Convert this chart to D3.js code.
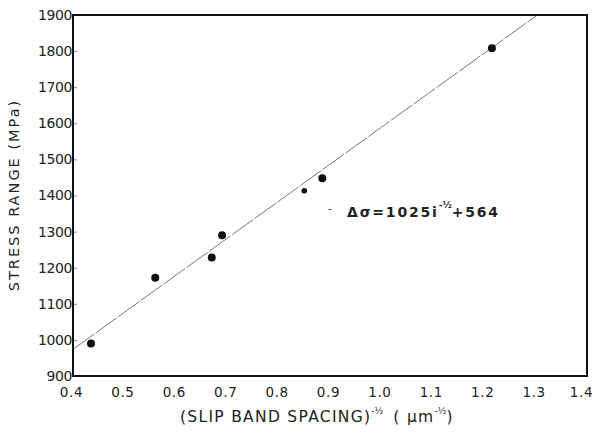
<!DOCTYPE html>
<html>
<head>
<meta charset="utf-8">
<script src="https://cdn.jsdelivr.net/npm/d3@7"></script>
<style>
  body { margin: 0; background: #fff; }
  text { font-family: "DejaVu Sans", sans-serif; fill: #222; }
</style>
</head>
<body>
<div id="chart"></div>
<script>
// Data
const spacing = [0.435, 0.56, 0.67, 0.69, 0.885, 1.215];
const stress = [990, 1172, 1228, 1290, 1448, 1808];
const hiddenPoint = [0.85, 1413];
const xTicks = [0.4, 0.5, 0.6, 0.7, 0.8, 0.9, 1.0, 1.1, 1.2, 1.3, 1.4];
const yTicks = [900, 1000, 1100, 1200, 1300, 1400, 1500, 1600, 1700, 1800, 1900];
const fitSlope = 1025;
const fitIntercept = 564;

const dimensions = {
  width: 592,
  height: 443,
  margin: { top: 15, right: 5, bottom: 67, left: 73 },
};
dimensions.containerWidth =
  dimensions.width - dimensions.margin.left - dimensions.margin.right;
dimensions.containerHeight =
  dimensions.height - dimensions.margin.top - dimensions.margin.bottom;

const svg = d3
  .select("#chart")
  .append("svg")
  .attr("width", dimensions.width)
  .attr("height", dimensions.height);

const container = svg
  .append("g")
  .attr("transform", `translate(${dimensions.margin.left}, ${dimensions.margin.top})`);

// Scales
const xScale = d3.scaleLinear().domain([0.4, 1.4]).range([0, dimensions.containerWidth]);
const yScale = d3.scaleLinear().domain([900, 1900]).range([dimensions.containerHeight, 0]);

// Fit line, clipped to the frame
container
  .append("clipPath")
  .attr("id", "clip")
  .append("rect")
  .attr("width", dimensions.containerWidth)
  .attr("height", dimensions.containerHeight);

const xTop = (1900 - fitIntercept) / fitSlope;
container
  .append("line")
  .attr("clip-path", "url(#clip)")
  .attr("x1", xScale(0.4))
  .attr("y1", yScale(fitSlope * 0.4 + fitIntercept))
  .attr("x2", xScale(xTop))
  .attr("y2", yScale(1900))
  .attr("stroke", "#777")
  .attr("stroke-width", 1)
  .attr("stroke-dasharray", "26,2");

// Points
container
  .selectAll("circle.pt")
  .data(d3.zip(spacing, stress))
  .join("circle")
  .attr("class", "pt")
  .attr("cx", (d) => xScale(d[0]))
  .attr("cy", (d) => yScale(d[1]))
  .attr("r", 4)
  .attr("fill", "#111");

container
  .append("circle")
  .attr("cx", xScale(hiddenPoint[0]))
  .attr("cy", yScale(hiddenPoint[1]))
  .attr("r", 2.8)
  .attr("fill", "#111");

// Axes
const yAxis = d3
  .axisLeft(yScale)
  .tickValues(yTicks)
  .tickSize(-4)
  .tickPadding(1)
  .tickFormat(d3.format("d"));
const yAxisG = container.append("g").call(yAxis);
yAxisG.select(".domain").remove();
yAxisG.selectAll(".tick line").attr("stroke", "#888");
yAxisG
  .selectAll(".tick text")
  .attr("font-size", 14)
  .attr("letter-spacing", "-0.4px")
  .attr("font-family", "DejaVu Sans, sans-serif")
  .attr("fill", "#222");

const xAxis = d3
  .axisBottom(xScale)
  .tickValues(xTicks)
  .tickSize(0)
  .tickPadding(11)
  .tickFormat(d3.format(".1f"));
const xAxisG = container
  .append("g")
  .attr("transform", `translate(0, ${dimensions.containerHeight})`)
  .call(xAxis);
xAxisG.select(".domain").remove();
xAxisG
  .selectAll(".tick text")
  .attr("font-size", 13.5)
  .attr("letter-spacing", "0.6px")
  .attr("dx", (d, i) => (i === xTicks.length - 1 ? -6 : -2))
  .attr("font-family", "DejaVu Sans, sans-serif")
  .attr("fill", "#222");

// Frame
container
  .append("rect")
  .attr("width", dimensions.containerWidth)
  .attr("height", dimensions.containerHeight)
  .attr("fill", "none")
  .attr("stroke", "#111")
  .attr("stroke-width", 2);

// Axis titles
svg
  .append("text")
  .attr("transform", "translate(19, 195) rotate(-90)")
  .attr("text-anchor", "middle")
  .attr("font-size", 14.5)
  .attr("letter-spacing", "2px")
  .text("STRESS RANGE (MPa)");

const xTitle = svg
  .append("text")
  .attr("x", 180)
  .attr("y", 422)
  .attr("font-size", 15.5)
  .attr("letter-spacing", "1.3px");
xTitle.append("tspan").text("(SLIP BAND SPACING)");
xTitle
  .append("tspan")
  .attr("dy", -8)
  .attr("font-size", 9)
  .attr("letter-spacing", "0px")
  .text("-½");
xTitle.append("tspan").attr("dy", 8).attr("dx", 10).text("( μm");
xTitle
  .append("tspan")
  .attr("dy", -8)
  .attr("font-size", 9)
  .attr("letter-spacing", "0px")
  .text("-½");
xTitle.append("tspan").attr("dy", 8).text(")");

// Fit equation
svg
  .append("text")
  .attr("x", 328)
  .attr("y", 212)
  .attr("font-size", 10)
  .attr("fill", "#999")
  .text("-");

const eq = svg
  .append("text")
  .attr("x", 347)
  .attr("y", 217)
  .attr("font-size", 14)
  .attr("font-weight", "bold")
  .attr("letter-spacing", "1.8px");
eq.append("tspan").text(`Δσ=${fitSlope}i`);
eq.append("tspan").attr("dy", -9).attr("font-size", 9).attr("letter-spacing", "0px").text("-½");
eq.append("tspan").attr("dy", 9).text(`+${fitIntercept}`);
</script>
</body>
</html>
